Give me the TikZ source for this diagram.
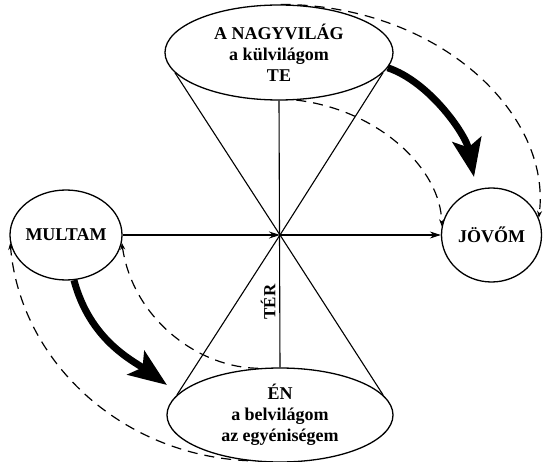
\documentclass[tikz,border=0pt]{standalone}
\usepackage{fontspec}
\setmainfont{Liberation Serif}
\usetikzlibrary{shapes.geometric,arrows.meta}
\begin{document}
\begin{tikzpicture}[x=1pt,y=-1pt,
  ell/.style={draw, ellipse, line width=1.3pt, inner sep=0pt, align=center,
    font=\bfseries\fontsize{18}{21}\selectfont},
  thinline/.style={line width=1.1pt},
  smallarrow/.style={thinline, -{Stealth[length=11pt,width=7pt]}},
  dashlink/.style={line width=1.2pt, dash pattern=on 10pt off 7pt,
    -{Stealth[length=7pt,width=5pt]}},
  bigarrow/.style={line width=7pt, -{Stealth[length=38pt,width=29pt,inset=8pt]}}
]
\useasboundingbox (0,0) rectangle (543,462);

\node[ell, minimum width=228, minimum height=95] (nagy) at (279,52.5)
  {A NAGYVILÁG\\a külvilágom\\TE};
\node[ell, minimum width=226, minimum height=94] (en) at (280,415)
  {ÉN\\a belvilágom\\az egyéniségem};
\node[ell, inner xsep=-4pt, minimum width=112, minimum height=90] (mult) at (66,235) {MULTAM};
\node[ell, minimum width=100, minimum height=94] (jov) at (491.5,235) {JÖVŐM};
\coordinate (c) at (280,235);
\coordinate (tipA) at (474,177);
\coordinate (tipB) at (167,385);

% cones and axes
\draw[thinline] (nagy.191) -- (c) -- (nagy.349);
\draw[thinline] (en.169) -- (c) -- (en.11);
\draw[thinline] (nagy.south) -- (en.north);
\draw[smallarrow] (mult.east) -- (c);
\draw[smallarrow] (c) -- (jov.west);

\node[rotate=90, font=\bfseries\fontsize{17}{19}\selectfont] (ter) at (268,302) {TÉR};

% dashed links
\draw[dashlink] (nagy.88) .. controls (440,5) and (552,115) .. (jov.20);
\draw[dashlink] (nagy.290) .. controls (380,110) and (441,170) .. (jov.170);
\draw[dashlink] (en.115) .. controls (200,368) and (133,320) .. (mult.352);
\draw[dashlink] (en.235) .. controls (120,455) and (20,360) .. (mult.188);

% thick arrows
\draw[bigarrow] (nagy.352) .. controls (430,82) and (466,135) .. (tipA);
\draw[bigarrow] (mult.280) .. controls (90,340) and (132,360) .. (tipB);
\end{tikzpicture}
\end{document}
